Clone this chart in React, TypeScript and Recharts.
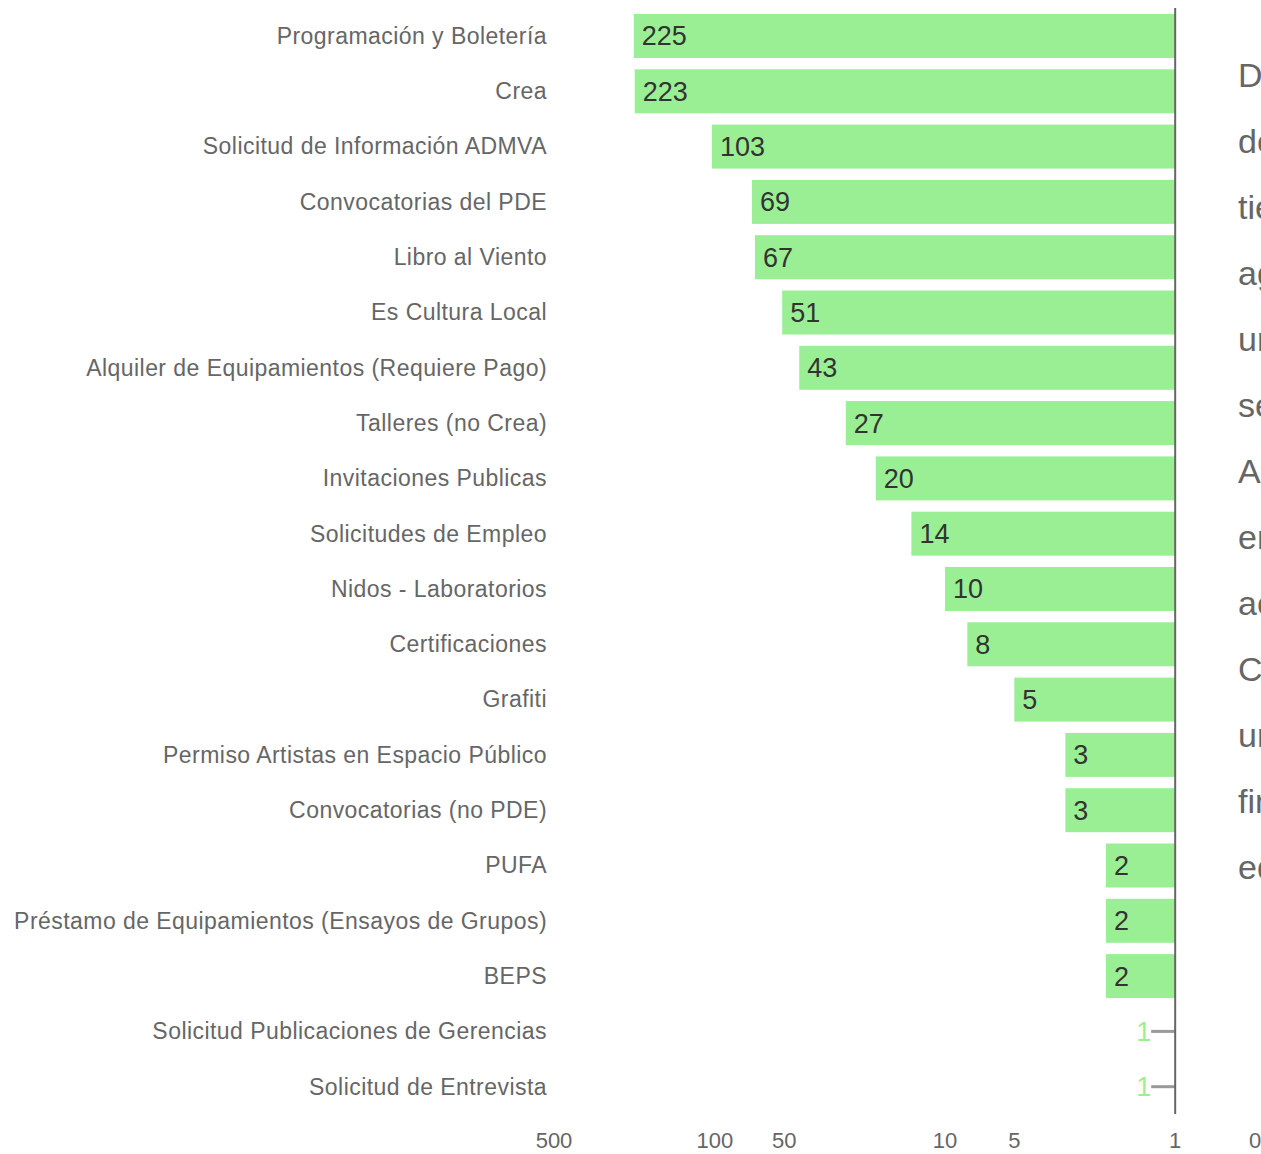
import React from "react";
import { BarChart, Bar, XAxis, YAxis, ReferenceLine } from "recharts";

const FONT = "'Liberation Sans', Arial, Helvetica, sans-serif";
const GREEN = "#9aef95";

const categories = [
  "Programación y Boletería",
  "Crea",
  "Solicitud de Información ADMVA",
  "Convocatorias del PDE",
  "Libro al Viento",
  "Es Cultura Local",
  "Alquiler de Equipamientos (Requiere Pago)",
  "Talleres (no Crea)",
  "Invitaciones Publicas",
  "Solicitudes de Empleo",
  "Nidos - Laboratorios",
  "Certificaciones",
  "Grafiti",
  "Permiso Artistas en Espacio Público",
  "Convocatorias (no PDE)",
  "PUFA",
  "Préstamo de Equipamientos (Ensayos de Grupos)",
  "BEPS",
  "Solicitud Publicaciones de Gerencias",
  "Solicitud de Entrevista",
];

const counts = [225, 223, 103, 69, 67, 51, 43, 27, 20, 14, 10, 8, 5, 3, 3, 2, 2, 2, 1, 1];

// log axis, reversed; the last tick sits just under 1 and prints as "0"
const xTicks = [500, 100, 50, 10, 5, 1, 0.45];

// text block beside the chart, clipped by the page edge
const sideLines = [
  "De acuerdo con",
  "de solicitudes",
  "tiempo",
  "agosto",
  "un total de",
  "se recibieron",
  "Atención",
  "en",
  "acceso",
  "Cultura",
  "un",
  "fin",
  "educación",
];

const data = categories.map((name, i) => ({
  name,
  range: [1, counts[i]],
  count: counts[i],
}));

// bar rect plus its value label; bars of 1 have no width, so they get a leader line
function BarWithValue(props: any) {
  const { x, y, width, height, index, fill } = props;
  const v = counts[index];
  const left = Math.min(x, x + width);
  const right = Math.max(x, x + width);
  const cy = y + height / 2;
  if (v <= 1) {
    return (
      <g>
        <line x1={right - 24} x2={right} y1={cy} y2={cy} stroke="#999" strokeWidth={3} />
        <text
          x={right - 24}
          y={cy}
          dy="0.35em"
          textAnchor="end"
          fill={GREEN}
          fontSize={27}
          fontFamily={FONT}
        >
          {v}
        </text>
      </g>
    );
  }
  return (
    <g>
      <rect x={left} y={y} width={right - left} height={height} fill={fill} />
      <text x={left + 8} y={cy} dy="0.35em" fill="#333" fontSize={27} fontFamily={FONT}>
        {v}
      </text>
    </g>
  );
}

export default function App() {
  return (
    <div
      style={{
        position: "absolute",
        left: 0,
        top: 0,
        width: 1261,
        height: 1154,
        overflow: "hidden",
        background: "#fff",
        fontFamily: FONT,
      }}
    >
      <BarChart
        width={1261}
        height={1154}
        data={data}
        layout="vertical"
        margin={{ top: 8, right: 6, bottom: 10, left: 0 }}
        barSize={44}
        style={{ fontFamily: FONT }}
      >
        <XAxis
          type="number"
          scale="log"
          domain={[0.45, 500]}
          allowDataOverflow
          reversed
          ticks={xTicks}
          interval={0}
          tickFormatter={(v: number) => (v < 1 ? "0" : String(v))}
          axisLine={false}
          tickLine={false}
          tickMargin={12}
          height={30}
          tick={{ fill: "#666", fontSize: 22, fontFamily: FONT }}
        />
        <YAxis
          type="category"
          dataKey="name"
          width={554}
          interval={0}
          axisLine={false}
          tickLine={false}
          tickMargin={1}
          tick={{ fill: "#666", fontSize: 23, letterSpacing: 0.45, fontFamily: FONT }}
        />
        <Bar dataKey="range" fill={GREEN} shape={BarWithValue} isAnimationActive={false} />
        <ReferenceLine x={1} stroke="#666" strokeWidth={2} />
      </BarChart>
      <div
        style={{
          position: "absolute",
          left: 1238,
          top: 42,
          fontSize: 34,
          lineHeight: "66px",
          color: "#666",
          whiteSpace: "nowrap",
        }}
      >
        {sideLines.map((t, i) => (
          <div key={i}>{t}</div>
        ))}
      </div>
    </div>
  );
}
